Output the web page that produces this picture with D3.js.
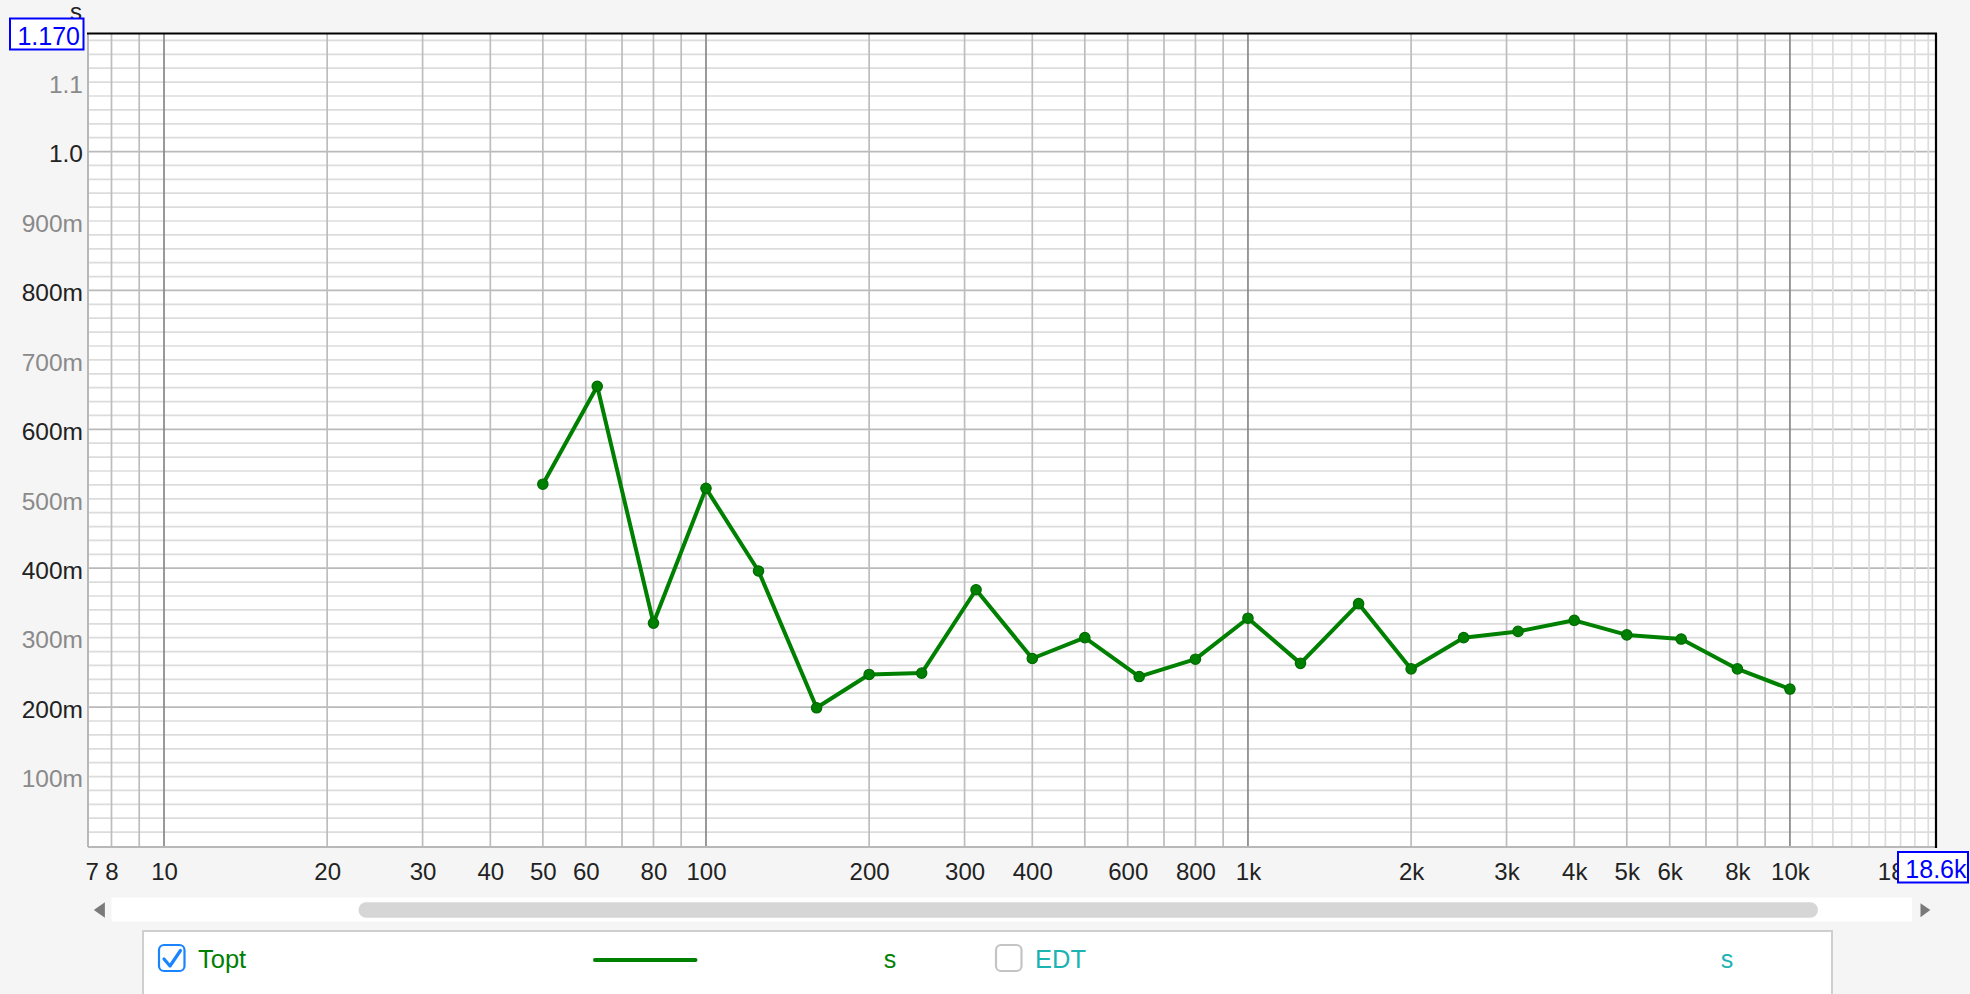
<!DOCTYPE html>
<html><head><meta charset="utf-8">
<script src="https://cdn.jsdelivr.net/npm/d3@7/dist/d3.min.js"></script>
<style>
html,body{margin:0;padding:0;background:#f5f5f5;overflow:hidden;}
svg{display:block;font-family:"Liberation Sans",Arial,Helvetica,sans-serif;}
</style></head><body>
<svg id="chart" width="1970" height="994"></svg>
<script>
// ---- data ----
const freqs = [50, 63, 80, 100, 125, 160, 200, 250, 315, 400, 500, 630, 800, 1000, 1250, 1600, 2000, 2500, 3150, 4000, 5000, 6300, 8000, 10000];
const toptValues = [0.521, 0.662, 0.321, 0.515, 0.396, 0.199, 0.247, 0.249, 0.369, 0.270, 0.300, 0.244, 0.269, 0.328, 0.263, 0.349, 0.255, 0.300, 0.309, 0.325, 0.304, 0.298, 0.255, 0.226];
const xTickValues = [7, 8, 10, 20, 30, 40, 50, 60, 80, 100, 200, 300, 400, 600, 800, 1000, 2000, 3000, 4000, 5000, 6000, 8000, 10000, 18000];
const xTickLabels = ["7", "8", "10", "20", "30", "40", "50", "60", "80", "100", "200", "300", "400", "600", "800", "1k", "2k", "3k", "4k", "5k", "6k", "8k", "10k", "18k"];
const yTickValues = [0.1, 0.2, 0.3, 0.4, 0.5, 0.6, 0.7, 0.8, 0.9, 1.0, 1.1];
const yTickLabels = ["100m", "200m", "300m", "400m", "500m", "600m", "700m", "800m", "900m", "1.0", "1.1"];
const xDomain = [7.24, 18600];
const yDomain = [0, 1.17];
const yMaxLabel = "1.170";
const xMaxLabel = "18.6k";
const unitLabel = "s";
const legendNames = ["Topt", "EDT"];
const legendChecked = [true, false];
const legendUnits = ["s", "s"];

// ---- layout ----
const L = 88, R = 1936, T = 33.5, B = 846;
const GREEN = "#008000", TEAL = "#1cb3b3", BLUE = "#0000ff";
const svg = d3.select("#chart");
const x = d3.scaleLog().domain(xDomain).range([L, R]);
const y = d3.scaleLinear().domain(yDomain).range([B, T]);

svg.append("rect").attr("x", L).attr("y", T).attr("width", R - L).attr("height", B - T).attr("fill", "#fff");

// horizontal grid
const gH = svg.append("g");
const hMinor = d3.range(1, 59).map(i => +(i * 0.02).toFixed(2));
gH.selectAll("line").data(hMinor).join("line")
  .attr("x1", L).attr("x2", R)
  .attr("y1", d => y(d)).attr("y2", d => y(d))
  .attr("stroke", d => (Math.round(d * 100) % 20 === 0) ? "#bababa" : "#dcdcdc")
  .attr("stroke-width", 1.7);

// vertical grid
const vLines = [];
for (let e = 0; e <= 4; e++) for (let k = 1; k <= 9; k++) {
  const v = k * Math.pow(10, e);
  if (v > xDomain[0] && v < xDomain[1] && v <= 10000) vLines.push({v, type: k === 1 ? "dec" : "mid"});
}
for (let k = 11; k <= 18; k++) vLines.push({v: k * 1000, type: "fine"});
svg.append("g").selectAll("line").data(vLines).join("line")
  .attr("x1", d => x(d.v)).attr("x2", d => x(d.v))
  .attr("y1", T).attr("y2", B)
  .attr("stroke", d => d.type === "dec" ? "#888888" : d.type === "mid" ? "#bdbdbd" : "#dcdcdc")
  .attr("stroke-width", 1.7);

// borders
svg.append("line").attr("x1", L).attr("x2", L).attr("y1", T).attr("y2", B + 1).attr("stroke", "#b8b8b8").attr("stroke-width", 2);
svg.append("line").attr("x1", L).attr("x2", R).attr("y1", B + 1).attr("y2", B + 1).attr("stroke", "#b8b8b8").attr("stroke-width", 2);
svg.append("line").attr("x1", L - 1).attr("x2", R + 1).attr("y1", T).attr("y2", T).attr("stroke", "#000").attr("stroke-width", 2.2);
svg.append("line").attr("x1", R).attr("x2", R).attr("y1", T).attr("y2", B + 2).attr("stroke", "#000").attr("stroke-width", 2.2);

// x axis
const xAxis = svg.append("g").attr("transform", `translate(0,${B})`)
  .call(d3.axisBottom(x).tickValues(xTickValues).tickFormat((d, i) => xTickLabels[i]).tickSize(0).tickPadding(17));
xAxis.select(".domain").remove();
xAxis.selectAll("text").attr("font-size", 24).attr("fill", "#222").attr("font-family", null);
xAxis.selectAll(".tick").each(function(d) {
  const t = d3.select(this).select("text");
  const w = t.node().getComputedTextLength();
  const cx = x(d);
  let nx = cx;
  if (nx - w / 2 < 85) nx = 85 + w / 2;
  if (nx + w / 2 > 1916) nx = 1916 - w / 2;
  t.attr("x", nx - cx);
});

// y axis
const yAxis = svg.append("g").attr("transform", `translate(${L},0)`)
  .call(d3.axisLeft(y).tickValues(yTickValues).tickFormat((d, i) => yTickLabels[i]).tickSize(0).tickPadding(5));
yAxis.select(".domain").remove();
yAxis.selectAll("text").attr("font-size", 24.5).attr("dy", "0.42em").attr("font-family", null)
  .attr("fill", (d, i) => i % 2 === 1 ? "#222" : "#8a8a8a");

// unit label and extent boxes
svg.append("text").attr("x", 76).attr("y", 20).attr("text-anchor", "middle").attr("font-size", 24).attr("fill", "#222").text(unitLabel);
svg.append("rect").attr("x", 10).attr("y", 18.5).attr("width", 73.5).attr("height", 31).attr("fill", "#fff").attr("stroke", BLUE).attr("stroke-width", 2);
svg.append("text").attr("x", 80).attr("y", 45).attr("text-anchor", "end").attr("font-size", 25).attr("fill", BLUE).text(yMaxLabel);
svg.append("rect").attr("x", 1898).attr("y", 852).attr("width", 70).attr("height", 30.5).attr("fill", "#fff").attr("stroke", BLUE).attr("stroke-width", 2);
svg.append("text").attr("x", 1966.5).attr("y", 878).attr("text-anchor", "end").attr("font-size", 25).attr("fill", BLUE).text(xMaxLabel);

// data line + markers
const pts = freqs.map((f, i) => [f, toptValues[i]]);
svg.append("path").datum(pts)
  .attr("d", d3.line().x(d => x(d[0])).y(d => y(d[1])))
  .attr("fill", "none").attr("stroke", GREEN).attr("stroke-width", 4).attr("stroke-linejoin", "round");
svg.append("g").selectAll("circle").data(pts).join("circle")
  .attr("cx", d => x(d[0])).attr("cy", d => y(d[1])).attr("r", 5.2)
  .attr("fill", GREEN).attr("stroke", "#006a00").attr("stroke-width", 1.2);

// scrollbar
svg.append("rect").attr("x", 111.5).attr("y", 897.5).attr("width", 1912 - 111.5).attr("height", 24).attr("fill", "#fff");
svg.append("rect").attr("x", 358.5).attr("y", 902.3).attr("width", 1818 - 358.5).attr("height", 15.4).attr("rx", 7.7).attr("fill", "#d6d6d6");
svg.append("path").attr("d", "M93.8,910 L104.9,902.3 L104.9,917.7 Z").attr("fill", "#7a7a7a");
svg.append("path").attr("d", "M1930.3,910 L1920.5,903.3 L1920.5,917.3 Z").attr("fill", "#7a7a7a");

// legend
svg.append("rect").attr("x", 143).attr("y", 931).attr("width", 1832 - 143).attr("height", 80).attr("fill", "#fff").attr("stroke", "#cfcfcf").attr("stroke-width", 2);
const legColors = [GREEN, TEAL];
const boxX = [159, 996];
const textX = [198, 1035];
const unitX = [890, 1727];
legendNames.forEach((n, i) => {
  svg.append("rect").attr("x", boxX[i]).attr("y", 945).attr("width", 25.5).attr("height", 26).attr("rx", 5)
    .attr("fill", "#fff").attr("stroke", legendChecked[i] ? "#1a84ff" : "#c4c4c4").attr("stroke-width", 2.2);
  if (legendChecked[i]) {
    svg.append("path").attr("d", `M${boxX[i] + 5},${959} L${boxX[i] + 11},${966} L${boxX[i] + 21.5},${950.5}`)
      .attr("fill", "none").attr("stroke", "#1a84ff").attr("stroke-width", 3.2).attr("stroke-linecap", "round").attr("stroke-linejoin", "round");
  }
  svg.append("text").attr("x", textX[i]).attr("y", 967.5).attr("font-size", 25.5).attr("fill", legColors[i]).text(n);
  svg.append("text").attr("x", unitX[i]).attr("y", 967.5).attr("text-anchor", "middle").attr("font-size", 25).attr("fill", legColors[i]).text(legendUnits[i]);
});
svg.append("line").attr("x1", 595).attr("x2", 695.5).attr("y1", 960).attr("y2", 960)
  .attr("stroke", GREEN).attr("stroke-width", 4).attr("stroke-linecap", "round");
</script>
</body></html>
